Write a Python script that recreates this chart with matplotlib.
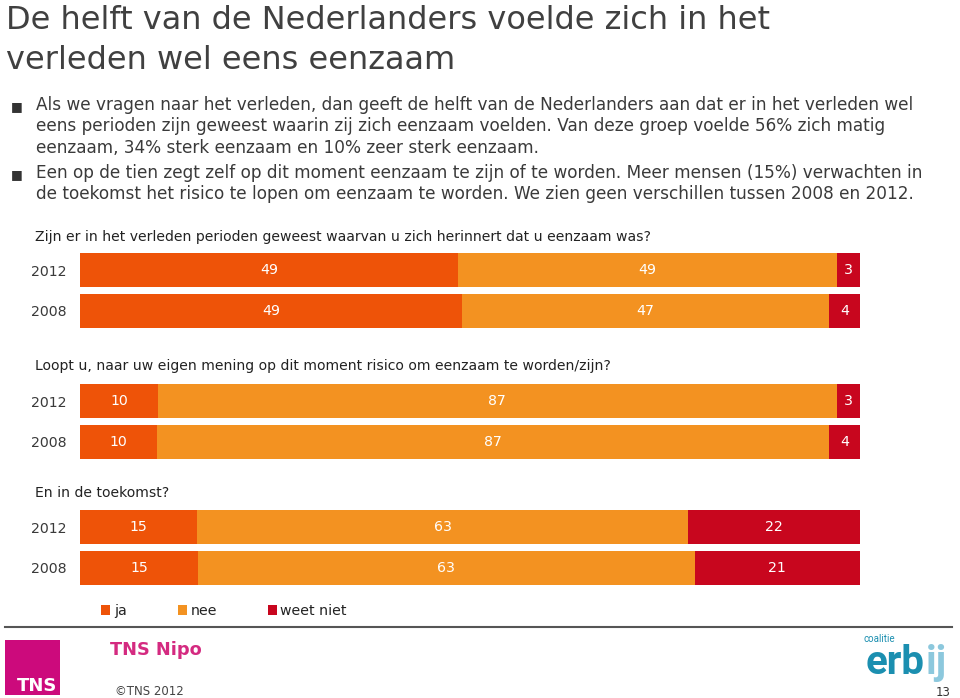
import numpy as np
import matplotlib.pyplot as plt
from matplotlib.patches import Patch, Rectangle
from matplotlib.lines import Line2D
from matplotlib.transforms import offset_copy

W, H = 960, 698

title_lines = ["De helft van de Nederlanders voelde zich in het", "verleden wel eens eenzaam"]
bullets = [
    ["Als we vragen naar het verleden, dan geeft de helft van de Nederlanders aan dat er in het verleden wel",
     "eens perioden zijn geweest waarin zij zich eenzaam voelden. Van deze groep voelde 56% zich matig",
     "eenzaam, 34% sterk eenzaam en 10% zeer sterk eenzaam."],
    ["Een op de tien zegt zelf op dit moment eenzaam te zijn of te worden. Meer mensen (15%) verwachten in",
     "de toekomst het risico te lopen om eenzaam te worden. We zien geen verschillen tussen 2008 en 2012."],
]
questions = [
    "Zijn er in het verleden perioden geweest waarvan u zich herinnert dat u eenzaam was?",
    "Loopt u, naar uw eigen mening op dit moment risico om eenzaam te worden/zijn?",
    "En in de toekomst?",
]
years = ["2012", "2008"]
ja = [[49, 49], [10, 10], [15, 15]]
nee = [[49, 47], [87, 87], [63, 63]]
weet_niet = [[3, 4], [3, 4], [22, 21]]
legend_labels = ["ja", "nee", "weet niet"]
colors = ["#EE5308", "#F39221", "#C8061E"]

text_col = "#3a3a3a"


def fx(px):
    return px / W


def fy(py):
    return 1 - py / H


fig = plt.figure(figsize=(9.6, 6.98), dpi=100)

# title
for i, line in enumerate(title_lines):
    fig.text(fx(6), fy(29 + 40 * i), line, fontsize=23, color="#404040", va="baseline")

# bullet text
bullet_y = [[110, 131, 153], [178, 199]]
for lines, ys in zip(bullets, bullet_y):
    fig.text(fx(11), fy(ys[0]), "\u25A0", fontsize=9, color="#333333", va="baseline")
    for line, y in zip(lines, ys):
        fig.text(fx(36), fy(y), line, fontsize=12.2, color=text_col, va="baseline")

# bar groups
q_y = [241, 370, 497]
row_top = [250, 381, 507]
for g in range(3):
    fig.text(fx(35), fy(q_y[g]), questions[g], fontsize=10.1, color="#222222", va="baseline")
    ax = fig.add_axes([fx(80), fy(row_top[g] + 81), 780 / W, 81 / H])
    vals = np.array([ja[g], nee[g], weet_niet[g]], dtype=float)
    tot = vals.sum(axis=0)
    shares = vals / tot * 100
    left = np.zeros(2)
    y = np.arange(2)
    for k in range(3):
        ax.barh(y, shares[k], left=left, height=0.84, color=colors[k])
        for r in range(2):
            ax.text(left[r] + shares[k][r] / 2, y[r], f"{int(vals[k][r])}",
                    ha="center", va="center", color="white", fontsize=10.2)
        left += shares[k]
    ax.set_xlim(0, 100)
    ax.set_ylim(1.5, -0.5)
    ax.set_yticks(y)
    ax.set_yticklabels(years, fontsize=10.2, color=text_col)
    ax.tick_params(axis="y", length=0, pad=10)
    ax.set_xticks([])
    for s in ax.spines.values():
        s.set_visible(False)

# legend
handles = [Patch(facecolor=c, edgecolor="none") for c in colors]
fig.legend(handles, legend_labels, loc="center left", bbox_to_anchor=(fx(101), fy(611)),
           ncol=3, frameon=False, fontsize=10.2, handlelength=0.65, handleheight=0.65,
           handletextpad=0.25, columnspacing=3.6, borderpad=0, borderaxespad=0,
           labelcolor="#222222")

# footer
fig.add_artist(Line2D([fx(5), fx(952)], [fy(627), fy(627)], color="#555555", lw=1.5))
fig.add_artist(Rectangle((fx(5), fy(695)), 55 / W, 55 / H, color="#CC0A7C", lw=0))
fig.text(fx(37), fy(691), "TNS", fontsize=13, color="white", fontweight="bold",
         ha="center", va="baseline")
fig.text(fx(110), fy(655), "TNS Nipo", fontsize=12.8, color="#D42A80", fontweight="bold",
         va="baseline")
fig.text(fx(115), fy(695), "\u00A9TNS 2012", fontsize=8.5, color="#444444", va="baseline")

fig.text(fx(863), fy(642), "coalitie", fontsize=7, color="#1B8FB0", family="Roboto",
         va="baseline")
erb = fig.text(fx(866), fy(674), "erb", fontsize=29, color="#1B8FB0", family="Roboto",
               fontweight="bold", va="baseline")
fig.canvas.draw()
bb = erb.get_window_extent()
fig.text(bb.x1 / fig.bbox.width + 0.5 / W, fy(674), "ij", fontsize=29, color="#8CC8DD",
         family="Roboto", fontweight="bold", va="baseline")
fig.text(fx(951), fy(696), "13", fontsize=8.5, color="#333333", ha="right", va="baseline")

fig.savefig("out.png", dpi=100)
